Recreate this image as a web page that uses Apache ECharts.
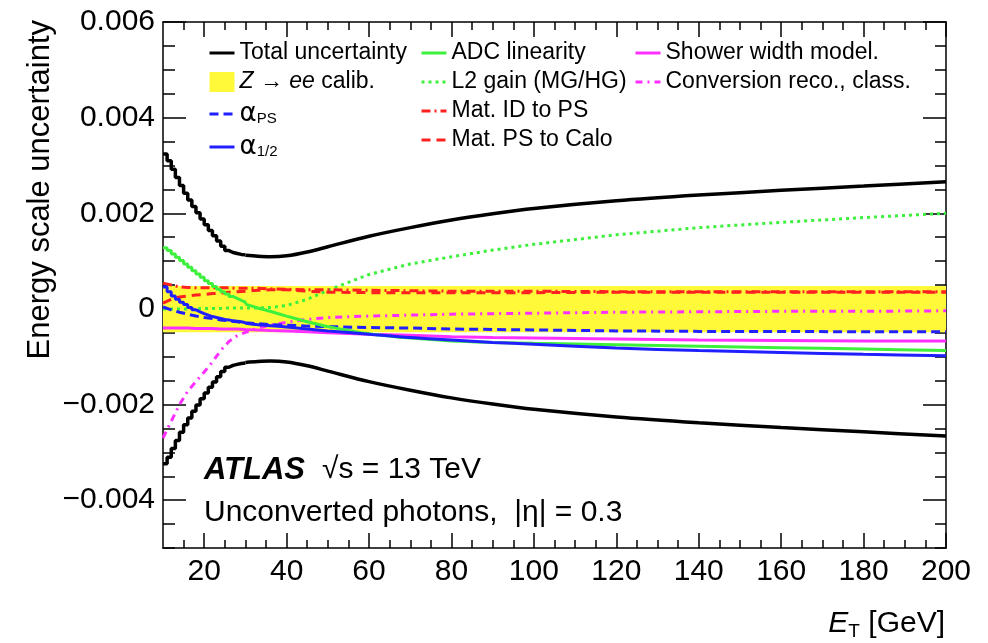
<!DOCTYPE html>
<html>
<head>
<meta charset="utf-8">
<script src="https://cdn.jsdelivr.net/npm/echarts@6/dist/echarts.min.js"></script>
<style>html,body{margin:0;padding:0;background:#fff}#c{width:988px;height:643px}</style>
</head>
<body>
<div id="c"></div>
<script>
// ---- data ----
const stepE = [10,11,12,13,14,15,16,17,18,19,20,21,22,23,24,25,26,27,28,29,30];
const curveE = [30,33,36,40,45,50,60,70,80,90,100,120,140,160,180,200];
const lineE = [10,12,14,16,18,20,22,24,26,28,30,33,36,40,45,50,60,70,80,90,100,120,140,160,180,200];

const totalStep = [0.00324,0.00310,0.00292,0.00275,0.00258,0.00242,0.00228,0.00214,0.00201,0.00188,0.00176,0.00164,0.00153,0.00142,0.00131,0.00122,0.00118,0.00116,0.00114,0.00113,0.00112];
const totalCurve = [0.00112,0.00110,0.00109,0.00111,0.00119,0.00130,0.00152,0.00170,0.00186,0.00199,0.00210,0.00226,0.00238,0.00248,0.00257,0.00266];

const adcStep = [0.00128,0.00122,0.00115,0.00108,0.00101,0.00094,0.00087,0.00080,0.00073,0.00066,0.00059,0.00053,0.00047,0.00041,0.00036,0.00031,0.00026,0.00022,0.00018,0.00014,0.00010];
const adcCurve = [0.00010,0.00002,-0.00005,-0.00015,-0.00027,-0.00037,-0.00052,-0.00061,-0.00067,-0.00070,-0.00072,-0.00075,-0.00078,-0.00081,-0.00084,-0.00087];

const a12Step = [0.00046,0.00036,0.00027,0.00020,0.00014,0.00009,0.00003,-0.00002,-0.00006,-0.00010,-0.00013,-0.00016,-0.00018,-0.00020,-0.00022,-0.00023,-0.00025,-0.00026,-0.00027,-0.00029,-0.00030];
const a12Curve = [-0.00030,-0.00033,-0.00035,-0.00038,-0.00042,-0.00046,-0.00053,-0.00060,-0.00065,-0.00070,-0.00074,-0.00082,-0.00087,-0.00091,-0.00095,-0.00098];

const aPS      = [0.00004,-0.00002,-0.00007,-0.00011,-0.00015,-0.00018,-0.00020,-0.00023,-0.00025,-0.00027,-0.00029,-0.00031,-0.00033,-0.00034,-0.00036,-0.00037,-0.00039,-0.00040,-0.00042,-0.00043,-0.00044,-0.00046,-0.00047,-0.00047,-0.00048,-0.00048];
const l2Gain   = [0,0,0,0,0,0.00001,0.00001,0.00001,0.00002,0.00002,0.00002,0.00002,0.00003,0.00007,0.00020,0.00039,0.00072,0.00094,0.00109,0.00123,0.00135,0.00155,0.00170,0.00181,0.00191,0.00200];
const matIDPS  = [0.00054,0.00050,0.00046,0.00045,0.00044,0.00044,0.00044,0.00044,0.00044,0.00043,0.00043,0.00043,0.00042,0.00041,0.00040,0.00040,0.00039,0.00038,0.00037,0.00037,0.00037,0.00036,0.00036,0.00036,0.00036,0.00036];
const matPSCalo= [0.00012,0.00020,0.00025,0.00027,0.00029,0.00030,0.00032,0.00033,0.00035,0.00036,0.00037,0.00039,0.00040,0.00040,0.00037,0.00035,0.00034,0.00034,0.00034,0.00034,0.00034,0.00035,0.00035,0.00035,0.00035,0.00035];
const shower   = [-0.00040,-0.00040,-0.00040,-0.00040,-0.00041,-0.00041,-0.00041,-0.00042,-0.00042,-0.00042,-0.00043,-0.00044,-0.00045,-0.00046,-0.00048,-0.00050,-0.00053,-0.00055,-0.00058,-0.00060,-0.00061,-0.00063,-0.00065,-0.00066,-0.00067,-0.00067];
const convReco = [-0.00270,-0.00235,-0.00200,-0.00172,-0.00152,-0.00132,-0.00111,-0.00087,-0.00068,-0.00056,-0.00049,-0.00040,-0.00034,-0.00028,-0.00022,-0.00018,-0.00015,-0.00013,-0.00011,-0.00010,-0.00009,-0.00007,-0.00006,-0.00005,-0.00005,-0.00004];

const zeeE = [10, 200];
const zeeLow = [-0.00049, -0.00049];
const zeeHigh = [0.00048, 0.00048];

const xMajor = [20,40,60,80,100,120,140,160,180,200];
const yMajor = [-0.004,-0.002,0,0.002,0.004,0.006];

// ---- helpers ----
const FONT = 'Liberation Sans, Arial, Helvetica, sans-serif';
const xMinor = []; for (let v = 15; v < 200; v += 5) xMinor.push(v);
const yMinor = []; for (let i = -10; i <= 12; i++) yMinor.push(+(i * 0.0005).toFixed(4));
const zip = (xs, ys) => xs.map((x, i) => [x, ys[i]]);
const neg = a => a.map(v => -v);

const C = {black:'#000000', green:'#3cf03c', blue:'#1f1fff', red:'#ff2020', mag:'#ff30ff', yellow:'#fff93a'};

function xAx(pos, ticks, len, labels, line) {
  return {type:'value', position:pos, min:10, max:200,
    axisLine:{show:line, onZero:false, lineStyle:{color:'#000', width:1.5}},
    axisTick:{show:true, inside:true, length:len, customValues:ticks, lineStyle:{color:'#000', width:1.5}},
    axisLabel: labels ? {show:true, customValues:xMajor, fontSize:30, color:'#000', fontFamily:FONT, margin:9} : {show:false},
    splitLine:{show:false}};
}
function yAx(pos, ticks, len, labels, line) {
  return {type:'value', position:pos, min:-0.005, max:0.006,
    axisLine:{show:line, onZero:false, lineStyle:{color:'#000', width:1.5}},
    axisTick:{show:true, inside:true, length:len, customValues:ticks, lineStyle:{color:'#000', width:1.5}},
    axisLabel: labels ? {show:true, customValues:yMajor, fontSize:30, color:'#000', fontFamily:FONT, margin:8,
      formatter: v => Math.abs(v) < 1e-9 ? '0' : (v < 0 ? '\u2212' : '') + Math.abs(v).toFixed(3)} : {show:false},
    splitLine:{show:false}};
}
function ln(name, xs, ys, color, type, extra) {
  return Object.assign({name, type:'line', data:zip(xs, ys), symbol:'none', showSymbol:false,
    lineStyle:{color, width:3, type}, itemStyle:{color}, z:3, silent:true}, extra || {});
}

const series = [
  {name:'Zee', type:'custom', z:1, silent:true, clip:true,
   itemStyle:{color:C.yellow},
   data:[[zeeE[0], zeeE[1], zeeLow[0], zeeHigh[0]]],
   encode:{x:[0,1], y:[2,3]},
   renderItem:(params, api) => {
     const p0 = api.coord([api.value(0), api.value(3)]);
     const p1 = api.coord([api.value(1), api.value(2)]);
     return {type:'rect', shape:{x:p0[0], y:p0[1], width:p1[0]-p0[0], height:p1[1]-p0[1]}, style:{fill:C.yellow}};
   }},
  ln('L2 gain (MG/HG)', lineE, l2Gain, C.green, [3,4]),
  ln('Mat. ID to PS', lineE, matIDPS, C.red, [9,4,2,4]),
  ln('Mat. PS to Calo', lineE, matPSCalo, C.red, [9,6]),
  ln('Conversion reco., class.', lineE, convReco, C.mag, [7,5,2,5]),
  ln('Shower width model.', lineE, shower, C.mag, 'solid'),
  ln('aPS', lineE, aPS, C.blue, [9,5]),
  ln('ADC linearity', stepE, adcStep, C.green, 'solid', {step:'end'}),
  ln('ADC linearity', curveE, adcCurve, C.green, 'solid', {smooth:0.3}),
  ln('a12', stepE, a12Step, C.blue, 'solid', {step:'end'}),
  ln('a12', curveE, a12Curve, C.blue, 'solid', {smooth:0.3}),
  ln('Total uncertainty', stepE, totalStep, C.black, 'solid', {step:'end', z:4, lineStyle:{color:C.black, width:3.5}}),
  ln('Total uncertainty', curveE, totalCurve, C.black, 'solid', {smooth:0.3, z:4, lineStyle:{color:C.black, width:3.5}}),
  ln('Total uncertainty', stepE, neg(totalStep), C.black, 'solid', {step:'end', z:4, lineStyle:{color:C.black, width:3.5}}),
  ln('Total uncertainty', curveE, neg(totalCurve), C.black, 'solid', {smooth:0.3, z:4, lineStyle:{color:C.black, width:3.5}})
];

const legendText = {fontSize:23, fontFamily:FONT, color:'#000', lineHeight:24,
  rich:{
    n:{fontSize:23, fontFamily:FONT, lineHeight:24},
    i:{fontSize:23, fontFamily:FONT, fontStyle:'italic', lineHeight:24},
    g:{fontSize:26, fontFamily:'DejaVu Sans', lineHeight:24},
    s:{fontSize:15, fontFamily:FONT, lineHeight:24, verticalAlign:'bottom', padding:[12,0,0,0]}
  }};
const fmt = name => ({
  'Zee':'{i|Z} {n|\u2192} {i|ee} {n|calib.}',
  'aPS':'{g|\u03b1}{s|PS}',
  'a12':'{g|\u03b1}{s|1/2}'
}[name] || '{n|' + name + '}');
function lg(left, data) {
  return {orient:'vertical', left, top:41, itemWidth:25, itemHeight:20, itemGap:5, selectedMode:false,
    itemStyle:{opacity:0}, lineStyle:{width:3}, textStyle:legendText, formatter:fmt, data, padding:0};
}

const option = {
  animation:false,
  backgroundColor:'#fff',
  grid:{left:163, right:42, top:22, bottom:95, containLabel:false},
  xAxis:[xAx('bottom', xMajor, 15, true, true), xAx('bottom', xMinor, 8, false, false),
         xAx('top', xMajor, 15, false, true), xAx('top', xMinor, 8, false, false)],
  yAxis:[yAx('left', yMajor, 23, true, true), yAx('left', yMinor, 12, false, false),
         yAx('right', yMajor, 23, false, true), yAx('right', yMinor, 11, false, false)],
  legend:[
    lg(208, ['Total uncertainty', {name:'Zee', icon:'rect', itemStyle:{color:C.yellow, opacity:1}}, 'aPS', 'a12']),
    lg(420, ['ADC linearity', 'L2 gain (MG/HG)', 'Mat. ID to PS', 'Mat. PS to Calo']),
    lg(634, ['Shower width model.', 'Conversion reco., class.'])
  ],
  series,
  graphic:[
    {type:'text', x:40, y:20, rotation:Math.PI/2,
     style:{text:'Energy scale uncertainty', font:'31px ' + FONT, fill:'#000', textAlign:'right', textVerticalAlign:'middle'}},
    {type:'text', x:945, y:624,
     style:{text:'{e|E}{t|T}{n| [GeV]}', textAlign:'right', textVerticalAlign:'middle', fill:'#000',
       rich:{e:{fontSize:30, fontStyle:'italic', fontFamily:FONT, lineHeight:34},
             t:{fontSize:19, fontFamily:FONT, lineHeight:34, verticalAlign:'bottom', padding:[8,0,0,0]},
             n:{fontSize:30, fontFamily:FONT, lineHeight:34}}}},
    {type:'text', x:204, y:470,
     style:{text:'ATLAS', font:'italic bold 31px ' + FONT, fill:'#000', textVerticalAlign:'middle'}},
    {type:'text', x:322, y:470,
     style:{text:'\u221As = 13 TeV', font:'30px ' + FONT, fill:'#000', textVerticalAlign:'middle'}},
    {type:'text', x:204, y:513,
     style:{text:'Unconverted photons,  |\u03b7| = 0.3', font:'30px ' + FONT, fill:'#000', textVerticalAlign:'middle'}}
  ]
};

const chart = echarts.init(document.getElementById('c'), null, {renderer:'canvas'});
chart.setOption(option);
</script>
</body>
</html>
